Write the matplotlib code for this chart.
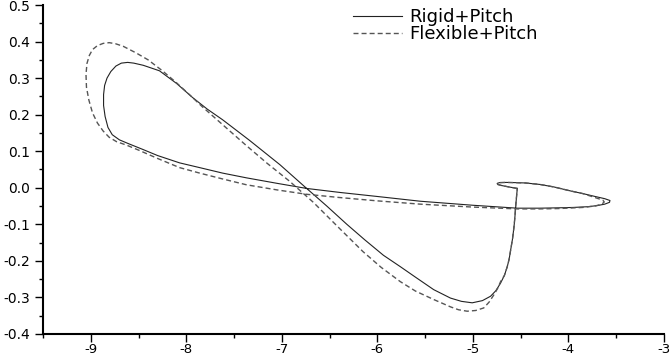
import numpy as np
import matplotlib
matplotlib.use("Agg")
import matplotlib.pyplot as plt
from matplotlib.ticker import MultipleLocator

plt.rcParams['font.family'] = ['DejaVu Sans']
plt.rcParams['axes.unicode_minus'] = False

# Rigid+Pitch trajectory (solid)
rigid_x = [-4.535, -4.62, -4.70, -4.74, -4.745, -4.72, -4.65, -4.57, -4.45, -4.30,
           -4.15, -3.975, -3.85, -3.72, -3.62, -3.565, -3.57, -3.62, -3.70, -3.80,
           -3.95, -4.10, -4.30, -4.535, -5.00, -5.55, -6.00, -6.39, -6.74, -7.05,
           -7.37, -7.62, -7.86, -8.07, -8.30, -8.457, -8.60, -8.70, -8.775, -8.82,
           -8.85, -8.866, -8.866, -8.855, -8.83, -8.79, -8.737, -8.68, -8.614, -8.55,
           -8.45, -8.281, -8.10, -7.935, -7.78, -7.62, -7.34, -7.02, -6.74, -6.53,
           -6.32, -6.13, -5.936, -5.76, -5.60, -5.41, -5.235, -5.12, -5.007, -4.90,
           -4.815, -4.76, -4.71, -4.67, -4.64, -4.62, -4.605, -4.585, -4.57, -4.56,
           -4.553, -4.545, -4.535]
rigid_y = [-0.002, 0.002, 0.006, 0.009, 0.012, 0.014, 0.0145, 0.014, 0.013, 0.009,
           0.002, -0.009, -0.016, -0.024, -0.030, -0.035, -0.040, -0.045, -0.049, -0.052,
           -0.054, -0.055, -0.056, -0.056, -0.048, -0.037, -0.024, -0.013, -0.002, 0.012,
           0.027, 0.040, 0.055, 0.068, 0.088, 0.105, 0.120, 0.131, 0.145, 0.165,
           0.195, 0.225, 0.255, 0.280, 0.300, 0.318, 0.333, 0.341, 0.343, 0.341,
           0.335, 0.320, 0.285, 0.247, 0.215, 0.186, 0.130, 0.063, -0.002, -0.050,
           -0.100, -0.143, -0.185, -0.216, -0.245, -0.279, -0.302, -0.311, -0.315, -0.309,
           -0.297, -0.282, -0.261, -0.240, -0.216, -0.195, -0.171, -0.140, -0.108, -0.080,
           -0.054, -0.030, -0.002]

# Flexible+Pitch trajectory (dashed)
flex_x = [-4.535, -4.62, -4.70, -4.74, -4.745, -4.72, -4.65, -4.57, -4.45, -4.30,
          -4.15, -3.975, -3.85, -3.72, -3.64, -3.625, -3.65, -3.72, -3.85, -4.10,
          -4.30, -4.535, -5.00, -5.55, -6.00, -6.39, -6.74, -7.05, -7.37, -7.62,
          -7.86, -8.07, -8.30, -8.50, -8.63, -8.73, -8.807, -8.87, -8.93, -8.982,
          -9.02, -9.045, -9.05, -9.04, -9.015, -8.982, -8.93, -8.87, -8.807, -8.74,
          -8.66, -8.526, -8.40, -8.25, -8.106, -7.96, -7.83, -7.60, -7.37, -7.15,
          -6.92, -6.67, -6.39, -6.15, -5.96, -5.76, -5.60, -5.41, -5.235, -5.15,
          -5.06, -4.97, -4.886, -4.83, -4.78, -4.74, -4.71, -4.67, -4.64, -4.62,
          -4.605, -4.585, -4.57, -4.56, -4.553, -4.545, -4.535]
flex_y = [-0.002, 0.002, 0.006, 0.009, 0.012, 0.014, 0.0145, 0.014, 0.013, 0.009,
          0.002, -0.009, -0.016, -0.027, -0.034, -0.039, -0.045, -0.050, -0.054, -0.057,
          -0.058, -0.058, -0.053, -0.045, -0.036, -0.027, -0.018, -0.006, 0.008, 0.024,
          0.040, 0.055, 0.080, 0.103, 0.117, 0.126, 0.138, 0.155, 0.177, 0.205,
          0.240, 0.275, 0.310, 0.340, 0.362, 0.378, 0.389, 0.395, 0.397, 0.394,
          0.387, 0.369, 0.350, 0.320, 0.288, 0.253, 0.221, 0.168, 0.115, 0.066,
          0.018, -0.040, -0.113, -0.175, -0.218, -0.257, -0.283, -0.306, -0.326, -0.334,
          -0.338, -0.336, -0.329, -0.313, -0.293, -0.275, -0.257, -0.240, -0.216, -0.195,
          -0.171, -0.140, -0.108, -0.080, -0.054, -0.030, -0.002]

labels = ["Rigid+Pitch", "Flexible+Pitch"]

fig = plt.figure(figsize=(6.72, 3.59), dpi=100)
ax = fig.add_axes([0.064, 0.07, 0.924, 0.916])

ax.plot(rigid_x, rigid_y, color='#222222', lw=0.8, label=labels[0])
ax.plot(flex_x, flex_y, color='#555555', lw=1.0, ls=(0, (3.6, 2.2)), label=labels[1])

ax.set_xlim(-9.5, -3)
ax.set_ylim(-0.4, 0.5)
ax.xaxis.set_major_locator(MultipleLocator(1))
ax.xaxis.set_minor_locator(MultipleLocator(0.5))
ax.yaxis.set_major_locator(MultipleLocator(0.1))
ax.yaxis.set_minor_locator(MultipleLocator(0.05))

for s in ['top', 'right']:
    ax.spines[s].set_visible(False)
for s in ['left', 'bottom']:
    ax.spines[s].set_linewidth(1.5)

ax.tick_params(which='major', direction='out', length=5.5, width=1, labelsize=10)
ax.tick_params(axis='x', which='major', pad=1, labelsize=9.5)
ax.tick_params(axis='y', which='major', pad=4)
ax.tick_params(which='minor', direction='out', length=3, width=1)

ax.legend(loc='upper left', bbox_to_anchor=(0.525, 0.977), bbox_transform=fig.transFigure,
          frameon=False, fontsize=13, borderpad=0, borderaxespad=0,
          handlelength=2.7, handletextpad=0.44, labelspacing=-0.07)

fig.savefig('out.png', dpi=100)
